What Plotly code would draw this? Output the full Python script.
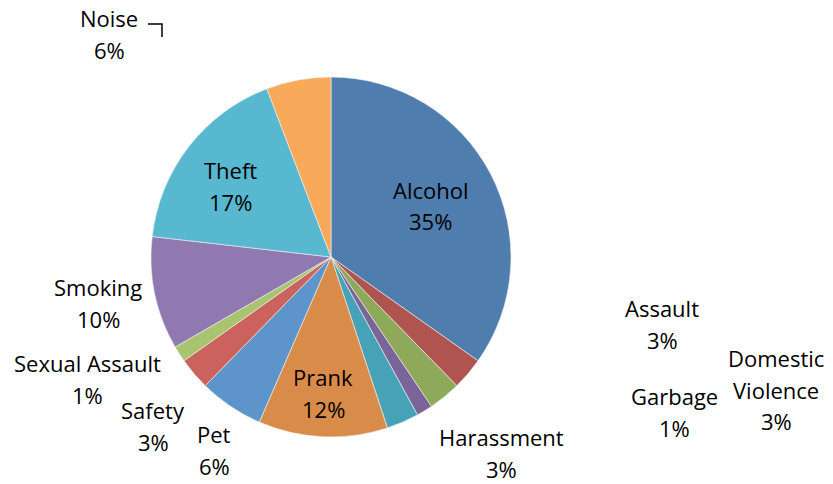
import plotly.graph_objects as go

# Incident counts by type, in drawing order (clockwise from 12 o'clock)
categories = ["Alcohol", "Assault", "Domestic<br>Violence", "Garbage", "Harassment",
              "Prank", "Pet", "Safety", "Sexual Assault", "Smoking", "Theft", "Noise"]
counts = [24, 2, 2, 1, 2, 8, 4, 2, 1, 7, 12, 4]
colors = ["#4F7EAE", "#B0544F", "#8FA95B", "#7A6598", "#47A2B8", "#D98C49",
          "#5D95CB", "#CC625E", "#A9C46F", "#9079B0", "#57B8CF", "#F8A95A"]

# Label anchor points (pixel centres of the first text line)
label_px = [(431, 190), (662, 308), (776, 358), (674, 396), (501, 437),
            (323, 377), (214, 434), (153, 410), (87, 363), (98, 287),
            (230, 170), (109, 18)]

W, H = 833, 484
CX, CY, R = 331, 257, 180
LINE = 31.5

total = sum(counts)
pct = [round(c / total * 100) for c in counts]

fig = go.Figure(go.Pie(
    labels=categories,
    values=counts,
    sort=False,
    direction="clockwise",
    rotation=0,
    textinfo="none",
    hoverinfo="label+percent",
    marker=dict(colors=colors, line=dict(color="#f2f2f2", width=0.6)),
    domain=dict(x=[(CX - R) / W, (CX + R) / W],
                y=[1 - (CY + R) / H, 1 - (CY - R) / H]),
    showlegend=False,
))

font = dict(family="Open Sans, sans-serif", size=22, color="#000000")
annotations = []
for name, p, (px, py) in zip(categories, pct, label_px):
    lines = name.split("<br>") + [f"{p}%"]
    for i, line in enumerate(lines):
        annotations.append(dict(
            text=line,
            x=px / W, y=1 - (py + i * LINE) / H,
            xref="paper", yref="paper",
            xanchor="center", yanchor="middle",
            borderpad=0,
            showarrow=False, font=font,
        ))

fig.update_layout(
    width=W, height=H,
    margin=dict(l=0, r=0, t=0, b=0),
    paper_bgcolor="white",
    plot_bgcolor="white",
    annotations=annotations,
    shapes=[dict(type="path", xref="paper", yref="paper",
                 path=f"M {148 / W} {1 - 24 / H} L {162 / W} {1 - 24 / H} L {162 / W} {1 - 37 / H}",
                 line=dict(color="#000000", width=1.5))],
)

fig.write_html("out.html")
